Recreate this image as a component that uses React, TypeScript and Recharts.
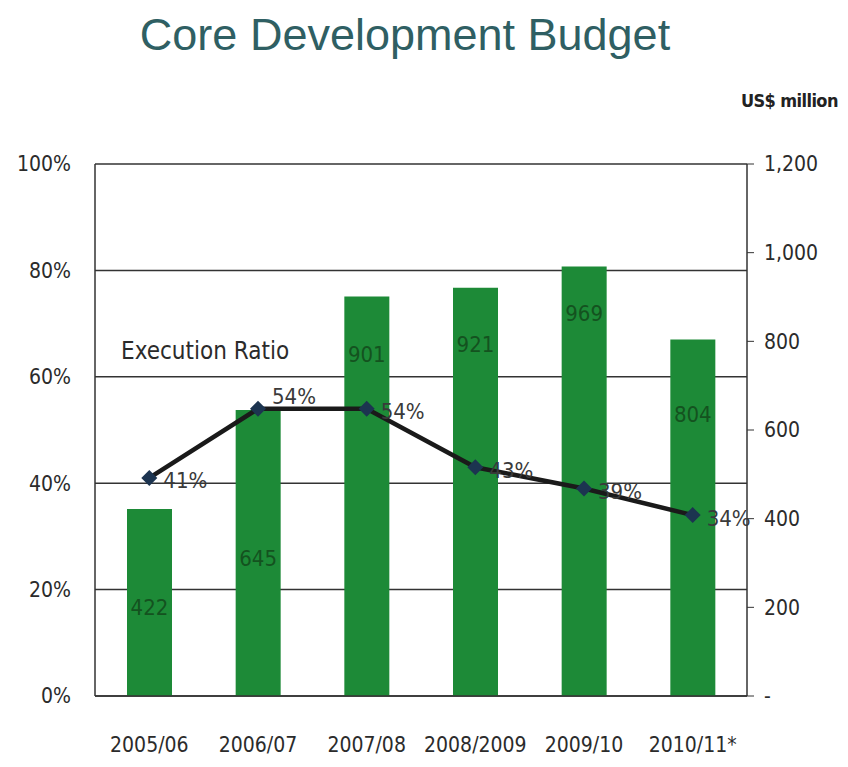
import React from "react";
import { ComposedChart, Bar, Line, XAxis, YAxis, CartesianGrid, LabelList } from "recharts";

const years = ["2005/06", "2006/07", "2007/08", "2008/2009", "2009/10", "2010/11*"];
const budget = [422, 645, 901, 921, 969, 804];
const ratio = [41, 54, 54, 43, 39, 34];
const pctTicks = [0, 20, 40, 60, 80, 100];
const usdTicks = [0, 200, 400, 600, 800, 1000, 1200];

// how far below each bar top its value sits (px), as in the original slide
const LABEL_DROP = [99, 148, 58, 57, 47, 75];

const data = years.map((year, i) => ({ year, budget: budget[i], ratio: ratio[i] }));

const FONT = "'DejaVu Sans Condensed', 'Liberation Sans Narrow', sans-serif";
const AXIS_TICK = { fill: "#2b2b2b", fontSize: 21, fontFamily: FONT };

function Diamond(props: any) {
    const { cx, cy } = props;
    if (cx == null || cy == null) return null;
    const r = 8;
    return <polygon points={`${cx},${cy - r} ${cx + r},${cy} ${cx},${cy + r} ${cx - r},${cy}`} fill="#1c3450" />;
}

function BarValue(props: any) {
    const { x, y, width, index, value } = props;
    return (
        <text x={x + width / 2} y={y + LABEL_DROP[index]} textAnchor="middle" dominantBaseline="central"
            fill="#14521f" fontSize={22} fontFamily={FONT}>
            {value}
        </text>
    );
}

function RatioValue(props: any) {
    const { x, y, index, value } = props;
    // the second point's label sits a little higher in the original
    const dy = index === 1 ? -12 : 3;
    return (
        <text x={x + 14} y={y + dy} dominantBaseline="central" fill="#3a3a3a" fontSize={22} fontFamily={FONT}>
            {`${value}%`}
        </text>
    );
}

export default function App() {
    return (
        <div style={{ position: "absolute", left: 0, top: 0, width: 848, height: 767, background: "#fff" }}>
            <div style={{ position: "absolute", left: 0, width: 810, top: 9, textAlign: "center", fontFamily: "'Liberation Sans', Arial, sans-serif", fontSize: 45, color: "#2f5f63" }}>
                Core Development Budget
            </div>
            <div style={{ position: "absolute", left: 741, top: 90, fontFamily: FONT, fontWeight: 700, fontSize: 18, letterSpacing: -0.6, color: "#222" }}>
                US$ million
            </div>
            <div style={{ position: "absolute", left: 121, top: 337, fontFamily: FONT, fontSize: 24, color: "#2b2b2b" }}>
                Execution Ratio
            </div>
            <ComposedChart width={848} height={767} data={data} margin={{ top: 164, right: 0, bottom: 9, left: 0 }}>
                <CartesianGrid yAxisId="pct" vertical={false} stroke="#333" strokeWidth={1.5} />
                <XAxis dataKey="year" tickLine={false} axisLine={{ stroke: "#333", strokeWidth: 1.5 }} height={62}
                    tick={AXIS_TICK} tickMargin={35} interval={0} />
                <YAxis yAxisId="pct" orientation="left" width={95} domain={[0, 100]} ticks={pctTicks}
                    tickFormatter={(v: number) => `${v}%`} tickLine={false} tickMargin={18}
                    axisLine={{ stroke: "#333", strokeWidth: 1.5 }} tick={AXIS_TICK} />
                <YAxis yAxisId="usd" orientation="right" width={101} domain={[0, 1200]} ticks={usdTicks}
                    tickFormatter={(v: number) => (v === 0 ? "-" : v.toLocaleString("en-US"))}
                    tickSize={7} tickMargin={10} tickLine={{ stroke: "#333" }}
                    axisLine={{ stroke: "#333", strokeWidth: 1.5 }} tick={AXIS_TICK} />
                <Bar yAxisId="usd" dataKey="budget" fill="#1d8a37" barSize={45} isAnimationActive={false}>
                    <LabelList dataKey="budget" content={<BarValue />} />
                </Bar>
                <Line yAxisId="pct" dataKey="ratio" type="linear" stroke="#1a1a1a" strokeWidth={4.5}
                    dot={<Diamond />} activeDot={false} isAnimationActive={false}>
                    <LabelList dataKey="ratio" content={<RatioValue />} />
                </Line>
            </ComposedChart>
        </div>
    );
}
